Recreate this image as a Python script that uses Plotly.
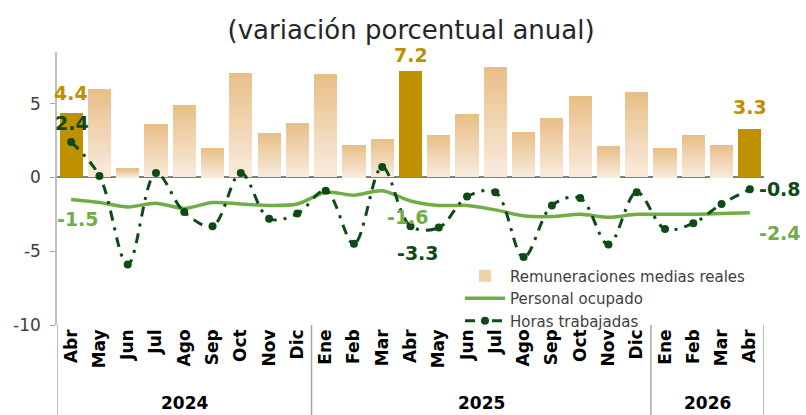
import plotly.graph_objects as go

years = ["2024"] * 9 + ["2025"] * 12 + ["2026"] * 4
months = ["Abr", "May", "Jun", "Jul", "Ago", "Sep", "Oct", "Nov", "Dic",
          "Ene", "Feb", "Mar", "Abr", "May", "Jun", "Jul", "Ago", "Sep", "Oct", "Nov", "Dic",
          "Ene", "Feb", "Mar", "Abr"]

remuneraciones = [4.4, 6.0, 0.6, 3.6, 4.9, 2.0, 7.1, 3.0, 3.7,
                  7.0, 2.2, 2.6, 7.2, 2.9, 4.3, 7.5, 3.1, 4.0, 5.5, 2.1, 5.8,
                  2.0, 2.9, 2.2, 3.3]
personal = [-1.5, -1.7, -2.0, -1.75, -2.1, -1.7, -1.8, -1.9, -1.8,
            -1.0, -1.2, -0.9, -1.6, -1.9, -1.9, -2.2, -2.6, -2.65, -2.5, -2.7, -2.5,
            -2.5, -2.5, -2.45, -2.4]
horas = [2.4, 0.1, -5.9, 0.3, -2.35, -3.3, 0.3, -2.8, -2.45,
         -0.9, -4.5, 0.7, -3.3, -3.4, -1.3, -1.0, -5.4, -1.9, -1.4, -4.55, -1.0,
         -3.5, -3.1, -1.8, -0.8]
ytick_vals = [-10, -5, 0, 5]
ytick_text = ["-10", "-5", "0", "5"]
highlight = [0, 12, 24]

FONT = "DejaVu Sans"
GOLD = "#BF9000"
DARK = "#0E4A16"
LIGHT = "#70AD47"
idx = list(range(len(months)))

fig = go.Figure()

N = 18
top = (232, 190, 135)
bot = (248, 236, 222)
for k in range(N):
    t = (k + 0.5) / N
    c = tuple(round(bot[i] + (top[i] - bot[i]) * t) for i in range(3))
    col = "rgb(%d,%d,%d)" % c
    colors = [GOLD if i in highlight else col for i in idx]
    fig.add_trace(go.Bar(x=idx, y=[v / N for v in remuneraciones],
                         marker=dict(color=colors, line=dict(width=0)),
                         showlegend=False, hoverinfo="skip"))

fig.add_trace(go.Bar(x=[idx[1]], y=[0], name="Remuneraciones medias reales",
                     marker=dict(color="rgb(238,210,172)", line=dict(width=0)), showlegend=True))

fig.add_trace(go.Scatter(x=idx, y=personal, mode="lines", name="Personal ocupado",
                         line=dict(color=LIGHT, width=3.5, shape="spline", smoothing=0.8)))
fig.add_trace(go.Scatter(x=idx, y=horas, mode="lines+markers", name="Horas trabajadas",
                         line=dict(color=DARK, width=3, shape="spline", smoothing=1.0,
                                   dash="10px,7px,3px,7px"),
                         marker=dict(size=8, color=DARK)))

def ann(i, val, text, color, dx, dy):
    fig.add_annotation(x=i, y=val, text="<b>%s</b>" % text, showarrow=False,
                       xshift=dx, yshift=dy, font=dict(family=FONT, size=19, color=color))

ann(0, remuneraciones[0], "4.4", GOLD, 0, 20)
ann(12, remuneraciones[12], "7.2", GOLD, 0, 16)
ann(24, remuneraciones[24], "3.3", GOLD, 0, 22)
ann(0, horas[0], "2.4", DARK, 1, 19)
ann(12, horas[12], "-3.3", DARK, 7, -27)
ann(24, horas[24], "-0.8", DARK, 30, 0)
ann(0, personal[0], "-1.5", LIGHT, 7, -19)
ann(12, personal[12], "-1.6", LIGHT, -3, -16)
ann(24, personal[24], "-2.4", LIGHT, 30, -20)

# year group labels and dividers
groups = []
for i, yv in enumerate(years):
    if not groups or groups[-1][0] != yv:
        groups.append([yv, i, i])
    else:
        groups[-1][2] = i
for yv, a, b in groups:
    fig.add_annotation(x=(a + b) / 2, y=-0.285, yref="paper", yanchor="middle",
                       text="<b>%s</b>" % yv, showarrow=False,
                       font=dict(family=FONT, size=17, color="#000000"))
bounds = [groups[0][1] - 0.5] + [g[2] + 0.5 for g in groups]
for bx in bounds:
    fig.add_shape(type="line", xref="x", yref="paper", x0=bx, x1=bx, y0=0, y1=-0.34,
                  line=dict(color="#A6A6A6", width=1.5), layer="above")

fig.update_layout(
    width=806, height=415,
    margin=dict(l=57, r=42, t=52, b=90),
    paper_bgcolor="white", plot_bgcolor="white",
    barmode="stack", bargap=0.18,
    font=dict(family=FONT, color="#404040", size=15),
    title=dict(text="(variación porcentual anual)", x=0.51, xanchor="center", y=0.951, yanchor="top",
               font=dict(family=FONT, size=26, color="#262626")),
    legend=dict(x=0.57, y=0.24, xanchor="left", yanchor="top", traceorder="normal",
                bgcolor="rgba(255,255,255,0)", font=dict(family=FONT, size=15, color="#404040"),
                tracegroupgap=0, itemwidth=40),
    showlegend=True,
)
fig.update_xaxes(range=[-0.5, len(months) - 0.5], tickmode="array", tickvals=idx,
                 ticktext=["<b>%s</b>" % m for m in months],
                 showline=False, ticks="", showgrid=False, zeroline=False,
                 tickangle=-90, tickfont=dict(family=FONT, size=17, color="#000000"))
fig.update_yaxes(range=[-10, 8.5], tickmode="array", tickvals=ytick_vals, ticktext=ytick_text,
                 showgrid=False, showline=True, linecolor="#BFBFBF", linewidth=1.5,
                 ticks="outside", ticklen=5, tickcolor="#A6A6A6", ticklabelstandoff=6,
                 zeroline=True, zerolinecolor="#808080", zerolinewidth=1.5,
                 tickfont=dict(family=FONT, size=17, color="#404040"))

fig.write_html("out.html", config={"displayModeBar": False},
               post_script="document.body.style.margin='0px';")
